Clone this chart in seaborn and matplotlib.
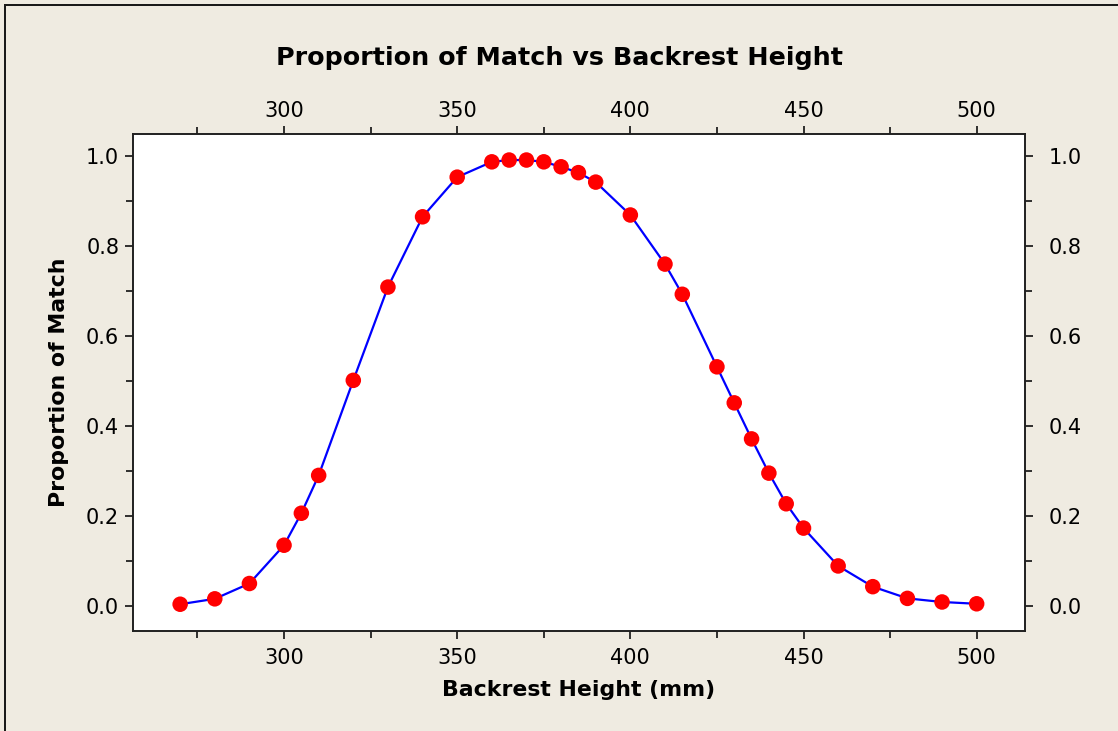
import matplotlib
matplotlib.use("Agg")
import matplotlib.pyplot as plt
from matplotlib.patches import Rectangle
from matplotlib.ticker import MultipleLocator
from matplotlib.transforms import ScaledTranslation
import numpy as np
import pandas as pd
import seaborn as sns

# Backrest height (mm) and the proportion of users matched at each height
backrest_height = [270, 280, 290, 300, 305, 310, 320, 330, 340, 350, 360, 365, 370,
                   375, 380, 385, 390, 400, 410, 415, 425, 430, 435, 440, 445, 450,
                   460, 470, 480, 490, 500]
proportion_match = [0.005, 0.017, 0.051, 0.136, 0.207, 0.291, 0.502, 0.709, 0.865,
                    0.953, 0.987, 0.991, 0.991, 0.987, 0.976, 0.963, 0.942, 0.869,
                    0.760, 0.693, 0.532, 0.452, 0.372, 0.296, 0.228, 0.174, 0.090,
                    0.044, 0.018, 0.010, 0.006]

x_ticks = [300, 350, 400, 450, 500]
y_ticks = [0.0, 0.2, 0.4, 0.6, 0.8, 1.0]

title = "Proportion of Match vs Backrest Height"
x_label = "Backrest Height (mm)"
y_label = "Proportion of Match"

df = pd.DataFrame({"height": backrest_height, "proportion": proportion_match})

sns.set_theme(style="ticks")
plt.rcParams["font.family"] = ["DejaVu Sans"]
plt.rcParams["text.color"] = "black"
plt.rcParams["axes.labelcolor"] = "black"

bg = "#EFEBE1"
fig = plt.figure(figsize=(11.18, 7.31), dpi=100, facecolor=bg, linewidth=0)
ax = fig.add_axes([0.119, 0.1368, 0.7978, 0.6799])
ax.set_facecolor("white")

sns.lineplot(data=df, x="height", y="proportion", ax=ax, color="#0000FF",
             linewidth=1.6, zorder=2)
sns.scatterplot(data=df, x="height", y="proportion", ax=ax, color="#FF0000",
                s=125, edgecolor="none", zorder=3)

ax.set_xlim(256.4, 513.95)
ax.set_ylim(-0.0544, 1.0488)

ax.set_xticks(x_ticks)
ax.set_yticks(y_ticks)
ax.set_yticklabels([f"{v:.1f}" for v in y_ticks])
ax.xaxis.set_minor_locator(MultipleLocator(25))
ax.yaxis.set_minor_locator(MultipleLocator(0.1))

for s in ax.spines.values():
    s.set_visible(True)
    s.set_color("#202020")
    s.set_linewidth(1.4)

ax.tick_params(axis="both", which="both", direction="out", colors="#202020",
               width=1.3, labelcolor="black", labelsize=15,
               top=True, right=True, labeltop=True, labelright=True)
ax.tick_params(axis="both", which="major", length=6)
ax.tick_params(axis="both", which="minor", length=5)
ax.tick_params(axis="x", which="major", pad=6)
ax.tick_params(axis="y", which="major", pad=4)

# push the right-hand labels a little further from the frame
shift = ScaledTranslation(7 / 72, 0, fig.dpi_scale_trans)
for t in ax.yaxis.get_major_ticks():
    t.label2.set_transform(t.label2.get_transform() + shift)
# top labels sit slightly closer to the frame than the bottom ones
up = ScaledTranslation(0, -3 / 72, fig.dpi_scale_trans)
for t in ax.xaxis.get_major_ticks():
    t.label2.set_transform(t.label2.get_transform() + up)

ax.set_xlabel(x_label, fontsize=15.8, fontweight="bold", labelpad=9)
ax.set_ylabel(y_label, fontsize=15.8, fontweight="bold", labelpad=12)
fig.suptitle(title, fontsize=18.3, fontweight="bold", y=0.937, color="black")

# Outer frame along the top and left edges, drawn as thin filled bars
W, H = 1118, 731
fig.add_artist(Rectangle((4 / W, 0), 2 / W, 1 - 4 / H, transform=fig.transFigure,
                         facecolor="#1a1a1a", edgecolor="none", linewidth=0))
fig.add_artist(Rectangle((4 / W, 1 - 6 / H), 1 - 4 / W, 2 / H, transform=fig.transFigure,
                         facecolor="#1a1a1a", edgecolor="none", linewidth=0))

fig.savefig("out.png", dpi=100, facecolor=bg, edgecolor="none")
